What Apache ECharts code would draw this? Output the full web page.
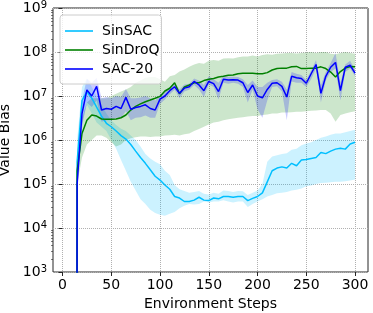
<!DOCTYPE html>
<html>
<head>
<meta charset="utf-8">
<script src="https://cdn.jsdelivr.net/npm/echarts@6/dist/echarts.min.js"></script>
<style>html,body{margin:0;padding:0;background:#fff;}#c{width:373px;height:313px;}</style>
</head>
<body>
<div id="c"></div>
<script>
// Environment steps (first point is 0 -> clipped below log axis like matplotlib)
const steps = [10,15,20,25,30,35,40,45,50,55,60,65,70,75,80,85,90,95,100,105,110,115,120,125,130,135,140,145,150,155,160,165,170,175,180,185,190,195,200,205,210,215,220,225,230,235,240,245,250,255,260,265,270,275,280,285,290,295,300];

const sinSAC = [0,3.2e5,7.9e6,1.26e7,8.9e6,5.6e6,3.5e6,2.4e6,2.0e6,1.6e6,1.26e6,1.05e6,7.9e5,5.6e5,4.0e5,2.95e5,2.1e5,1.5e5,1.23e5,9.5e4,7.6e4,5.2e4,4.8e4,4.0e4,4.0e4,4.3e4,5.0e4,4.3e4,4.2e4,4.8e4,4.6e4,5.2e4,5.2e4,5.0e4,5.2e4,5.2e4,4.2e4,4.7e4,5.2e4,6.3e4,1.12e5,2.0e5,2.3e5,2.45e5,2.3e5,2.95e5,2.6e5,3.5e5,3.6e5,3.8e5,4.0e5,5.2e5,4.9e5,5.6e5,6.2e5,6.5e5,6.2e5,8.1e5,8.9e5];
const sinSACLow = [0,1.0e5,2.5e6,6.3e6,4.0e6,2.5e6,2.0e6,1.6e6,1.0e6,6.3e5,3.5e5,2.0e5,1.12e5,7.1e4,4.5e4,3.5e4,2.6e4,2.2e4,2.0e4,1.9e4,2.1e4,2.3e4,2.8e4,3.2e4,3.5e4,3.4e4,3.5e4,4.0e4,3.8e4,4.0e4,4.0e4,4.3e4,4.0e4,3.8e4,4.0e4,4.0e4,3.0e4,3.5e4,4.0e4,4.5e4,5.2e4,5.6e4,6.2e4,6.3e4,6.6e4,7.1e4,7.4e4,7.9e4,8.9e4,9.3e4,1.0e5,1.05e5,1.07e5,1.1e5,1.12e5,1.12e5,1.15e5,1.2e5,1.26e5];
const sinSACHigh = [0,1.0e6,1.6e7,2.5e7,1.6e7,1.0e7,6.3e6,4.0e6,2.8e6,2.2e6,1.8e6,1.6e6,1.26e6,1.0e6,7.1e5,4.8e5,3.8e5,3.2e5,2.8e5,2.0e5,1.6e5,9.5e4,7.6e4,6.9e4,6.3e4,6.6e4,6.9e4,6.0e4,5.8e4,6.3e4,6.0e4,7.1e4,6.9e4,6.6e4,6.9e4,6.8e4,5.6e4,6.3e4,7.1e4,1.0e5,3.2e5,4.2e5,4.5e5,4.8e5,5.0e5,6.0e5,6.3e5,7.6e5,8.3e5,8.9e5,1.0e6,1.12e6,1.2e6,1.32e6,1.41e6,1.41e6,1.51e6,1.6e6,1.7e6];

const sinDroQ = [0,2.0e5,1.41e6,2.8e6,3.7e6,3.5e6,3.0e6,2.95e6,2.95e6,3.0e6,3.2e6,3.7e6,4.8e6,5.8e6,6.6e6,7.4e6,8.1e6,8.9e6,9.8e6,1.3e7,1.5e7,2.0e7,1.12e7,1.6e7,1.78e7,2.0e7,2.0e7,2.24e7,2.4e7,2.5e7,2.7e7,2.8e7,2.95e7,3.0e7,3.2e7,3.3e7,3.3e7,3.3e7,3.2e7,3.2e7,3.4e7,3.9e7,4.2e7,4.3e7,4.3e7,4.6e7,4.7e7,4.2e7,4.2e7,4.3e7,4.3e7,4.6e7,4.2e7,3.5e7,2.7e7,3.6e7,4.3e7,4.7e7,4.6e7];
const sinDroQLow = [0,1.0e5,4.0e5,7.9e5,1.0e6,1.26e6,1.26e6,1.12e6,8.9e5,7.1e5,7.9e5,1.0e6,1.1e6,1.15e6,1.2e6,1.2e6,1.17e6,1.2e6,1.2e6,1.26e6,1.29e6,1.32e6,1.26e6,1.35e6,1.41e6,1.6e6,1.78e6,2.0e6,2.24e6,2.5e6,2.6e6,2.8e6,2.95e6,3.1e6,3.2e6,3.3e6,3.4e6,3.5e6,3.5e6,3.7e6,3.8e6,4.0e6,4.0e6,4.2e6,4.2e6,4.3e6,4.4e6,4.4e6,4.5e6,4.6e6,4.7e6,4.8e6,4.8e6,4.0e6,2.6e6,3.7e6,4.0e6,4.3e6,4.5e6];
const sinDroQHigh = [0,5.0e5,3.2e6,7.1e6,8.9e6,8.9e6,8.9e6,8.9e6,1.0e7,1.12e7,1.26e7,1.41e7,1.6e7,2.0e7,2.24e7,2.6e7,2.7e7,2.7e7,2.4e7,2.1e7,2.8e7,3.0e7,3.6e7,4.0e7,4.6e7,5.2e7,5.6e7,5.4e7,6.3e7,6.6e7,6.3e7,7.1e7,7.2e7,7.1e7,7.6e7,7.9e7,7.9e7,8.3e7,7.9e7,8.5e7,8.9e7,8.7e7,9.1e7,9.3e7,9.5e7,9.5e7,9.3e7,9.5e7,9.8e7,1.0e8,9.5e7,1.0e8,1.0e8,9.1e7,8.9e7,9.5e7,1.0e8,9.5e7,9.1e7];

const sac20 = [0,1.0e5,4.0e6,1.38e7,1.0e7,1.66e7,4.8e6,5.2e6,5.0e6,5.8e6,5.2e6,9.3e6,5.0e6,5.5e6,5.8e6,6.3e6,5.2e6,4.8e6,8.5e6,1.0e7,1.32e7,1.62e7,1.15e7,1.51e7,1.62e7,2.14e7,1.78e7,1.32e7,2.14e7,1.91e7,1.26e7,2.4e7,2.3e7,2.34e7,2.3e7,2.0e7,1.2e7,1.78e7,1.0e7,9.1e6,1.41e7,1.95e7,2.0e7,1.66e7,9.5e6,2.8e7,2.6e7,2.5e7,1.95e7,3.2e7,5.2e7,1.15e7,2.8e7,4.5e7,5.8e7,1.32e7,4.5e7,5.0e7,3.3e7];
const sac20Low = [0,6.3e4,2.0e6,7.1e6,5.6e6,7.9e6,2.6e6,2.8e6,2.8e6,3.2e6,3.2e6,4.5e6,2.8e6,3.2e6,3.3e6,3.6e6,3.2e6,3.2e6,6.6e6,8.3e6,1.1e7,1.38e7,8.9e6,1.26e7,1.38e7,1.78e7,1.41e7,9.5e6,1.82e7,1.6e7,8.3e6,2.0e7,1.91e7,2.0e7,1.91e7,1.6e7,7.1e6,1.41e7,5.0e6,3.2e6,7.9e6,1.6e7,1.66e7,1.26e7,2.8e6,2.14e7,2.0e7,2.0e7,1.6e7,2.4e7,4.2e7,7.1e6,2.24e7,3.5e7,4.2e7,7.9e6,3.5e7,4.2e7,2.8e7];
const sac20High = [0,1.6e5,7.9e6,2.5e7,2.0e7,2.6e7,8.9e6,9.5e6,8.9e6,1.0e7,9.5e6,1.45e7,8.9e6,8.9e6,9.3e6,1.0e7,8.9e6,7.9e6,1.07e7,1.26e7,1.6e7,2.0e7,1.41e7,1.82e7,1.91e7,2.5e7,2.24e7,1.78e7,2.8e7,2.4e7,2.0e7,2.9e7,2.75e7,2.75e7,2.7e7,2.4e7,1.78e7,2.24e7,1.6e7,1.6e7,2.0e7,2.3e7,2.4e7,2.1e7,1.41e7,3.5e7,3.2e7,3.0e7,2.3e7,3.8e7,6.6e7,1.78e7,3.5e7,5.6e7,9.5e7,2.0e7,5.2e7,6.3e7,4.0e7];

const xTicks = [0,50,100,150,200,250,300];
const yTicks = [1e3,1e4,1e5,1e6,1e7,1e8,1e9];
const yMinorTicks = [];
for (let e = 3; e < 9; e++) for (let m = 2; m <= 9; m++) yMinorTicks.push(m * Math.pow(10, e));

const seriesNames = ['SinSAC','SinDroQ','SAC-20'];
const colors = ['#00bfff','#008000','#0000ff'];
const bandColors = ['rgba(0,191,255,0.2)','rgba(0,128,0,0.2)','rgba(0,0,255,0.2)'];

// matplotlib clips non-positive values on a log axis far below the view
const floorLog = v => (v > 0 ? v : 1e-100);

function lineSeries(name, vals, color, z) {
  return {
    name, type: 'line', symbol: 'none', clip: true, z,
    lineStyle: { color, width: 1.5 }, itemStyle: { color },
    data: steps.map((s, i) => [s, floorLog(vals[i])])
  };
}
function bandSeries(name, low, high, fill) {
  return {
    name: name + ' band', type: 'custom', silent: true, z: 1, clip: true,
    data: [[steps[1], 1e5]],
    renderItem: (params, api) => {
      const pts = [];
      for (let i = 0; i < steps.length; i++) pts.push(api.coord([steps[i], floorLog(high[i])]));
      for (let i = steps.length - 1; i >= 0; i--) pts.push(api.coord([steps[i], floorLog(low[i])]));
      return {
        type: 'polygon', shape: { points: pts }, style: { fill: fill, stroke: null },
        clipPath: { type: 'rect', shape: { x: params.coordSys.x, y: params.coordSys.y, width: params.coordSys.width, height: params.coordSys.height } }
      };
    }
  };
}

const FONT = 'DejaVu Sans';
const chart = echarts.init(document.getElementById('c'), null, { renderer: 'canvas' });
chart.setOption({
  animation: false,
  textStyle: { fontFamily: FONT },
  grid: { left: 53, right: 5, top: 8, bottom: 41, outerBoundsMode: 'none', containLabel: false, show: true, borderColor: '#262626', borderWidth: 1, backgroundColor: 'transparent' },
  legend: {
    data: seriesNames, orient: 'vertical', left: 60, top: 15,
    icon: 'rect', padding: [9, 2, 8, 5], itemGap: 5, itemWidth: 28, itemHeight: 1.6,
    backgroundColor: 'rgba(255,255,255,0.8)', borderColor: '#cccccc', borderWidth: 1, borderRadius: 3,
    formatter: n => '{t|' + n + '}',
    textStyle: {
      fontFamily: FONT, fontSize: 14, color: '#000', lineHeight: 14,
      rich: { t: { fontFamily: FONT, fontSize: 14, color: '#000', lineHeight: 14, padding: [0, 0, 0, 4] } }
    }
  },
  xAxis: {
    type: 'value', min: -9.75, max: 313.3,
    name: 'Environment Steps', nameLocation: 'middle', nameGap: 20,
    nameTextStyle: { fontFamily: FONT, fontSize: 14, color: '#000' },
    axisLine: { show: false },
    axisTick: { show: true, length: 4, customValues: xTicks, lineStyle: { color: '#262626' } },
    axisLabel: { customValues: xTicks, fontFamily: FONT, fontSize: 14, color: '#000', margin: 6 },
    splitLine: { show: true, lineStyle: { color: '#b0b0b0', type: 'dotted', width: 1 } }
  },
  yAxis: [{
    type: 'log', logBase: 10, min: 1e3, max: 1e9,
    name: 'Value Bias', nameLocation: 'middle', nameGap: 34,
    nameTextStyle: { fontFamily: FONT, fontSize: 14, color: '#000' },
    axisLine: { show: false },
    axisTick: { show: true, length: 4, customValues: yTicks, lineStyle: { color: '#262626' } },
    axisLabel: {
      customValues: yTicks, margin: 6,
      formatter: v => '{b|10}{s|' + Math.round(Math.log10(v)) + '}',
      rich: {
        b: { fontFamily: FONT, fontSize: 14, color: '#000', lineHeight: 16 },
        s: { fontFamily: FONT, fontSize: 10, color: '#000', lineHeight: 16, verticalAlign: 'top', padding: [0, 0, 6, 0] }
      }
    },
    splitLine: { show: true, lineStyle: { color: '#b0b0b0', type: 'dotted', width: 1 } }
  }, {
    type: 'log', logBase: 10, min: 1e3, max: 1e9, position: 'left',
    axisLine: { show: false },
    axisTick: { show: true, length: 2, customValues: yMinorTicks, lineStyle: { color: '#262626', width: 0.6 } },
    axisLabel: { show: false },
    splitLine: { show: false }
  }],
  series: [
    bandSeries('SinSAC', sinSACLow, sinSACHigh, bandColors[0]),
    bandSeries('SinDroQ', sinDroQLow, sinDroQHigh, bandColors[1]),
    bandSeries('SAC-20', sac20Low, sac20High, bandColors[2]),
    lineSeries('SinSAC', sinSAC, colors[0], 3),
    lineSeries('SinDroQ', sinDroQ, colors[1], 4),
    lineSeries('SAC-20', sac20, colors[2], 5)
  ]
});
</script>
</body>
</html>
